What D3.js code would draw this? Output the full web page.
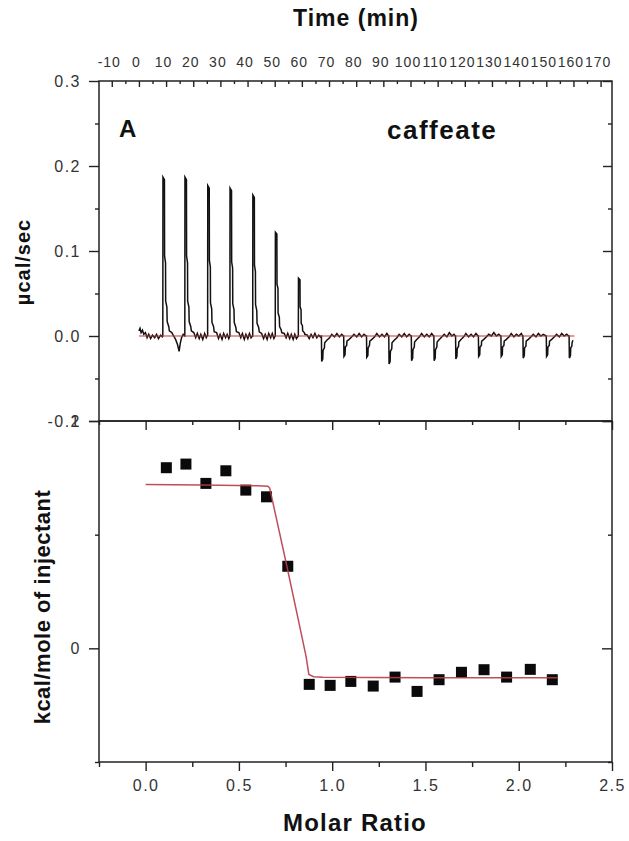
<!DOCTYPE html>
<html>
<head>
<meta charset="utf-8">
<script src="https://cdn.jsdelivr.net/npm/d3@7/dist/d3.min.js"></script>
<style>
  html, body { margin: 0; padding: 0; background: #fff; }
  svg { display: block; }
  text { font-family: "Liberation Sans", Arial, sans-serif; }
</style>
</head>
<body>
<svg id="chart" width="629" height="841"></svg>
<script>
// ---------------- DATA ----------------
// Top axis (time, min)
const timeMajorTicks = [-10,0,10,20,30,40,50,60,70,80,90,100,110,120,130,140,150,160,170];
const timeMinorTicks = [-5,5,15,25,35,45,55,65,75,85,95,105,115,125,135,145,155,165];
// Upper panel y ticks (µcal/sec)
const rateMajorTicks = [-0.1,0.0,0.1,0.2,0.3];
const rateMinorTicks = [-0.05,0.05,0.15,0.25];
// Lower panel ticks
const molarMajorTicks = [0.0,0.5,1.0,1.5,2.0,2.5];
const molarMinorTicks = [-0.25,0.25,0.75,1.25,1.75,2.25];
const heatMajorTicks = [0,2];
const heatMinorTicks = [-1,1];

// Raw thermogram [time (min), µcal/sec]
const trace = [
 [0.0,0.006],[0.4,0.009],[0.8,0.004],[1.3,0.007],[1.8,0.002],[2.4,0.004],[3.0,-0.002],[3.6,0.002],[4.3,-0.003],[5.0,0.001],[5.8,-0.002],[6.5,0.002],[7.2,-0.003],[8.0,0.001],[8.6,-0.001],
 [8.8,0.000],[8.85,0.187],[9.4,0.184],[9.45,0.094],[9.8,0.086],[9.85,0.041],[10.3,0.034],[10.4,0.017],[11.0,0.011],[11.2,0.006],[12.1,0.004],[12.8,0.000],[13.5,-0.004],[14.2,-0.010],[14.8,-0.018],[15.2,-0.009],[15.7,-0.002],[16.3,0.002],[16.85,0.000],
 [16.9,0.000],[16.95,0.187],[17.5,0.184],[17.55,0.094],[17.9,0.086],[17.95,0.041],[18.4,0.034],[18.5,0.017],[19.1,0.011],[19.3,0.006],[20.2,0.004],[20.9,-0.002],[21.5,0.003],[22.2,-0.003],[22.8,0.002],[23.5,-0.004],[24.2,0.003],[24.8,-0.002],[25.25,0.001],
 [25.3,0.000],[25.35,0.177],[25.9,0.174],[25.95,0.089],[26.3,0.081],[26.35,0.039],[26.8,0.032],[26.9,0.016],[27.5,0.011],[27.7,0.005],[28.6,0.004],[29.3,-0.003],[29.9,0.002],[30.6,-0.004],[31.2,0.003],[31.9,-0.002],[32.5,0.002],[33.1,-0.003],[33.45,0.000],
 [33.5,0.000],[33.55,0.174],[34.1,0.171],[34.15,0.087],[34.5,0.080],[34.55,0.038],[35.0,0.031],[35.1,0.016],[35.7,0.010],[35.9,0.005],[36.8,0.004],[37.5,-0.002],[38.1,0.003],[38.8,-0.004],[39.4,0.002],[40.1,-0.003],[40.7,0.003],[41.3,-0.002],[41.85,0.000],
 [41.9,0.000],[41.95,0.166],[42.5,0.163],[42.55,0.083],[42.9,0.076],[42.95,0.037],[43.4,0.030],[43.5,0.015],[44.1,0.010],[44.3,0.005],[45.2,0.003],[45.9,-0.003],[46.5,0.002],[47.2,-0.004],[47.8,0.003],[48.5,-0.002],[49.1,0.003],[49.7,-0.003],[50.15,0.000],
 [50.2,0.000],[50.25,0.122],[50.8,0.120],[50.85,0.061],[51.2,0.056],[51.25,0.027],[51.7,0.022],[51.8,0.011],[52.4,0.007],[52.6,0.004],[53.5,0.003],[54.2,-0.002],[54.8,0.003],[55.5,-0.003],[56.1,0.002],[56.8,-0.004],[57.4,0.002],[58.0,-0.003],[58.65,0.000],
 [58.7,0.000],[58.75,0.068],[59.3,0.066],[59.35,0.034],[59.7,0.031],[59.75,0.015],[60.2,0.012],[60.3,0.006],[60.9,0.004],[61.1,0.002],[62.0,0.001],[62.7,-0.003],[63.4,0.002],[64.1,-0.002],[64.8,0.003],[65.5,-0.002],[66.2,0.001],[66.8,-0.001],[67.1,0.000],
 [67.2,0.000],[67.3,-0.030],[67.7,-0.027],[67.8,-0.017],[68.3,-0.014],[68.4,-0.008],[69.2,-0.005],[70.2,-0.002],[71.0,0.002],[72.0,-0.001],[72.9,0.003],[73.8,-0.001],[74.7,0.002],[75.3,0.000],
 [75.4,0.000],[75.5,-0.024],[75.9,-0.022],[76.0,-0.013],[76.5,-0.011],[76.6,-0.006],[77.4,-0.004],[78.4,-0.001],[79.2,0.002],[80.2,-0.001],[81.1,0.003],[82.0,-0.001],[82.9,0.002],[83.7,0.000],
 [83.8,0.000],[83.9,-0.025],[84.3,-0.023],[84.4,-0.014],[84.9,-0.011],[85.0,-0.006],[85.8,-0.004],[86.8,-0.001],[87.6,0.003],[88.6,-0.001],[89.5,0.002],[90.4,-0.001],[91.3,0.003],[91.9,0.000],
 [92.0,0.000],[92.1,-0.033],[92.5,-0.030],[92.6,-0.018],[93.1,-0.015],[93.2,-0.008],[94.0,-0.005],[95.0,-0.002],[95.8,0.002],[96.8,-0.001],[97.7,0.003],[98.6,-0.001],[99.5,0.002],[100.2,0.000],
 [100.3,0.000],[100.4,-0.029],[100.8,-0.026],[100.9,-0.016],[101.4,-0.013],[101.5,-0.007],[102.3,-0.004],[103.3,-0.001],[104.1,0.003],[105.1,-0.001],[106.0,0.002],[106.9,-0.001],[107.8,0.003],[108.5,0.000],
 [108.6,0.000],[108.7,-0.029],[109.1,-0.026],[109.2,-0.016],[109.7,-0.013],[109.8,-0.007],[110.6,-0.004],[111.6,-0.001],[112.4,0.002],[113.4,-0.001],[114.3,0.004],[115.2,0.000],[116.0,0.002],[116.5,0.000],
 [116.6,0.000],[116.7,-0.027],[117.1,-0.024],[117.2,-0.015],[117.7,-0.012],[117.8,-0.007],[118.6,-0.004],[119.6,-0.001],[120.4,0.003],[121.4,-0.001],[122.3,0.002],[123.2,-0.001],[124.1,0.003],[124.9,0.000],
 [125.0,0.000],[125.1,-0.024],[125.5,-0.022],[125.6,-0.013],[126.1,-0.011],[126.2,-0.006],[127.0,-0.004],[128.0,-0.001],[128.8,0.002],[129.8,0.000],[130.7,0.004],[131.6,0.000],[132.5,0.002],[133.2,0.000],
 [133.3,0.000],[133.4,-0.024],[133.8,-0.022],[133.9,-0.013],[134.4,-0.011],[134.5,-0.006],[135.3,-0.004],[136.3,-0.001],[137.1,0.003],[138.1,-0.001],[139.0,0.002],[139.9,0.000],[140.8,0.003],[141.3,0.000],
 [141.4,0.000],[141.5,-0.026],[141.9,-0.023],[142.0,-0.014],[142.5,-0.012],[142.6,-0.006],[143.4,-0.004],[144.4,-0.001],[145.2,0.002],[146.2,-0.001],[147.1,0.003],[148.0,0.000],[148.9,0.002],[149.9,0.000],
 [150.0,0.000],[150.1,-0.024],[150.5,-0.022],[150.6,-0.013],[151.1,-0.011],[151.2,-0.006],[152.0,-0.004],[153.0,-0.001],[153.8,0.002],[154.8,-0.001],[155.7,0.003],[156.6,0.000],[157.5,0.002],[158.3,0.000],
 [158.4,0.000],[158.5,-0.026],[158.9,-0.023],[159.0,-0.014],[159.4,-0.012],[159.5,-0.008],[159.8,-0.005]
];
// Baseline (red) in the thermogram
const baselineTime = [0.0, 160.4];
const baselineRate = [0.0, 0.0];

// Integrated heats (lower panel)
const molarRatio = [0.111,0.216,0.323,0.430,0.537,0.648,0.762,0.877,0.989,1.100,1.220,1.337,1.455,1.573,1.693,1.814,1.935,2.062,2.180];
const heat = [1.589,1.621,1.451,1.562,1.392,1.333,0.722,-0.317,-0.326,-0.291,-0.332,-0.253,-0.379,-0.276,-0.211,-0.188,-0.253,-0.185,-0.276];
// Fitted curve
const fitX = [0.0,0.3,0.6,0.655,0.665,0.70,0.76,0.82,0.86,0.875,0.90,0.95,1.5,2.21];
const fitY = [1.442,1.437,1.430,1.427,1.41,1.15,0.70,0.24,-0.07,-0.23,-0.25,-0.255,-0.258,-0.258];

// ---------------- LAYOUT ----------------
const L = 99, R = 612, T = 81, MID = 421, B = 762;
const svg = d3.select("#chart");
const axisColor = "#222";
const labelColor = "#333";

const xTime = d3.scaleLinear().domain([-14.7, 174.2]).range([L, R]);
const yRate = d3.scaleLinear().domain([-0.1, 0.3]).range([MID, T]);
const xMol = d3.scaleLinear().domain([-0.25, 2.5]).range([L, R]);
const yHeat = d3.scaleLinear().domain([-1, 2]).range([B, MID]);

function styleAxis(g, fontSize, spacing) {
  g.select(".domain").remove();
  g.selectAll(".tick line").attr("stroke", axisColor).attr("stroke-width", 1.4);
  g.selectAll(".tick text")
    .attr("fill", labelColor)
    .style("font-size", fontSize + "px")
    .style("letter-spacing", spacing + "px")
    .style("font-family", "'Liberation Sans', Arial, sans-serif");
}

// ---- Upper panel axes ----
svg.append("g").attr("transform", `translate(0,${T})`)
  .call(d3.axisTop(xTime).tickValues(timeMajorTicks).tickSizeInner(-6).tickSizeOuter(0).tickPadding(14).tickFormat(d => String(d)))
  .call(g => styleAxis(g, 14, 1))
  .call(g => g.selectAll(".tick text").attr("dx", -3));
svg.append("g").attr("transform", `translate(0,${T})`)
  .call(d3.axisTop(xTime).tickValues(timeMinorTicks).tickSizeInner(-3).tickSizeOuter(0).tickFormat(""))
  .call(g => styleAxis(g, 14, 0));

svg.append("g").attr("transform", `translate(${L},0)`)
  .call(d3.axisLeft(yRate).tickValues(rateMajorTicks).tickSizeInner(10).tickSizeOuter(0).tickPadding(8).tickFormat(d => d.toFixed(1)))
  .call(g => styleAxis(g, 16, 1.5));
svg.append("g").attr("transform", `translate(${L},0)`)
  .call(d3.axisLeft(yRate).tickValues(rateMinorTicks).tickSizeInner(4).tickSizeOuter(0).tickFormat(""))
  .call(g => styleAxis(g, 16, 0));
svg.append("g").attr("transform", `translate(${R},0)`)
  .call(d3.axisLeft(yRate).tickValues(rateMajorTicks).tickSizeInner(9).tickSizeOuter(0).tickFormat(""))
  .call(g => styleAxis(g, 16, 0));
svg.append("g").attr("transform", `translate(${R},0)`)
  .call(d3.axisLeft(yRate).tickValues(rateMinorTicks).tickSizeInner(4).tickSizeOuter(0).tickFormat(""))
  .call(g => styleAxis(g, 16, 0));

// ---- Lower panel axes ----
svg.append("g").attr("transform", `translate(0,${B})`)
  .call(d3.axisBottom(xMol).tickValues(molarMajorTicks).tickSizeInner(9).tickSizeOuter(0).tickPadding(9).tickFormat(d => d.toFixed(1)))
  .call(g => styleAxis(g, 16, 1.5));
svg.append("g").attr("transform", `translate(0,${B})`)
  .call(d3.axisBottom(xMol).tickValues(molarMinorTicks).tickSizeInner(5).tickSizeOuter(0).tickFormat(""))
  .call(g => styleAxis(g, 16, 0));
svg.append("g").attr("transform", `translate(0,${MID})`)
  .call(d3.axisBottom(xMol).tickValues(molarMajorTicks).tickSizeInner(9).tickSizeOuter(0).tickFormat(""))
  .call(g => styleAxis(g, 16, 0));
svg.append("g").attr("transform", `translate(0,${MID})`)
  .call(d3.axisBottom(xMol).tickValues(molarMinorTicks).tickSizeInner(4).tickSizeOuter(0).tickFormat(""))
  .call(g => styleAxis(g, 16, 0));
svg.append("g").attr("transform", `translate(${L},0)`)
  .call(d3.axisLeft(yHeat).tickValues(heatMajorTicks).tickSizeInner(10).tickSizeOuter(0).tickPadding(8).tickFormat(d => String(d)))
  .call(g => styleAxis(g, 16, 1.5));
svg.append("g").attr("transform", `translate(${L},0)`)
  .call(d3.axisLeft(yHeat).tickValues(heatMinorTicks).tickSizeInner(4).tickSizeOuter(0).tickFormat(""))
  .call(g => styleAxis(g, 16, 0));
svg.append("g").attr("transform", `translate(${R},0)`)
  .call(d3.axisLeft(yHeat).tickValues(heatMajorTicks).tickSizeInner(10).tickSizeOuter(0).tickFormat(""))
  .call(g => styleAxis(g, 16, 0));
svg.append("g").attr("transform", `translate(${R},0)`)
  .call(d3.axisLeft(yHeat).tickValues(heatMinorTicks).tickSizeInner(4).tickSizeOuter(0).tickFormat(""))
  .call(g => styleAxis(g, 16, 0));

// frames
svg.append("rect").attr("x", L).attr("y", T).attr("width", R - L).attr("height", MID - T)
  .attr("fill", "none").attr("stroke", axisColor).attr("stroke-width", 1.5);
svg.append("rect").attr("x", L).attr("y", MID).attr("width", R - L).attr("height", B - MID)
  .attr("fill", "none").attr("stroke", axisColor).attr("stroke-width", 1.5);

// ---- Upper panel data ----
const traceLine = d3.line().x(d => xTime(d[0])).y(d => yRate(d[1]));
svg.append("path").datum(trace)
  .attr("d", traceLine)
  .attr("fill", "none").attr("stroke", "#111").attr("stroke-width", 1.5)
  .attr("stroke-linejoin", "miter");
const baseData = baselineTime.map((t, i) => [t, baselineRate[i]]);
svg.append("path").datum(baseData)
  .attr("d", traceLine)
  .attr("fill", "none").attr("stroke", "#cc3333").attr("stroke-width", 1.1);

// ---- Lower panel data ----
const sq = 11;
svg.append("g").selectAll("rect.pt")
  .data(molarRatio.map((m, i) => [m, heat[i]]))
  .join("rect").attr("class", "pt")
  .attr("x", d => xMol(d[0]) - sq / 2)
  .attr("y", d => yHeat(d[1]) - sq / 2)
  .attr("width", sq).attr("height", sq)
  .attr("fill", "#0a0a0a");
const fitLine = d3.line().x(d => xMol(d[0])).y(d => yHeat(d[1]));
svg.append("path").datum(fitX.map((x, i) => [x, fitY[i]]))
  .attr("d", fitLine)
  .attr("fill", "none").attr("stroke", "#b83a48").attr("stroke-width", 1.5).attr("opacity", 0.9);

// ---- Titles / annotations ----
svg.append("text").attr("x", 356).attr("y", 26).attr("text-anchor", "middle")
  .style("font-size", "23px").style("font-weight", "bold").style("letter-spacing", "1px")
  .attr("fill", "#111").text("Time (min)");
svg.append("text").attr("x", 355).attr("y", 831).attr("text-anchor", "middle")
  .style("font-size", "24px").style("font-weight", "bold").style("letter-spacing", "1.2px")
  .attr("fill", "#111").text("Molar Ratio");
svg.append("text").attr("transform", "translate(30,262) rotate(-90)").attr("text-anchor", "middle")
  .style("font-size", "20px").style("font-weight", "bold").style("letter-spacing", "1px")
  .attr("fill", "#111").text("µcal/sec");
svg.append("text").attr("transform", "translate(50,607) rotate(-90)").attr("text-anchor", "middle")
  .style("font-size", "22px").style("font-weight", "bold").style("letter-spacing", "0.5px")
  .attr("fill", "#111").text("kcal/mole of injectant");
svg.append("text").attr("x", 119).attr("y", 137)
  .style("font-size", "24px").style("font-weight", "bold")
  .attr("fill", "#111").text("A");
svg.append("text").attr("x", 387).attr("y", 139)
  .style("font-size", "26px").style("font-weight", "bold").style("letter-spacing", "1.5px")
  .attr("fill", "#111").text("caffeate");
</script>
</body>
</html>
